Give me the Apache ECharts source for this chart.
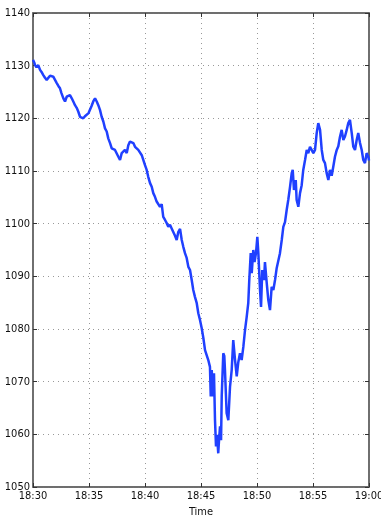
<!DOCTYPE html>
<html style="height:100%;width:100%;">
<head>
  <meta charset="utf-8">
  <title>Price</title>
  <script src="https://cdn.jsdelivr.net/npm/echarts@6/dist/echarts.min.js"></script>
</head>
<body style="margin:0px;height:100%;width:100%;background:#fff;">
  <div id="main" style="width:381px;height:523px"></div>
  <script type="text/javascript">
    // minutes after 18:30
    var minutes = [0, 0.13, 0.18, 0.31, 0.38, 0.47, 0.63, 0.76, 0.92, 1.07, 1.22, 1.37, 1.52, 1.65, 1.81, 1.96,
      2.12, 2.28, 2.41, 2.54, 2.71, 2.86, 3.01, 3.17, 3.30, 3.46, 3.62, 3.75, 3.90, 4.04, 4.20, 4.33, 4.49, 4.64,
      4.79, 4.96, 5.09, 5.22, 5.38, 5.54, 5.69, 5.83, 5.98, 6.13, 6.28, 6.43, 6.58, 6.72, 6.88, 7.03, 7.17, 7.32,
      7.47, 7.62, 7.77, 7.92, 8.06, 8.21, 8.37, 8.51, 8.66, 8.81, 8.96, 9.11, 9.26, 9.40, 9.55, 9.71, 9.85, 10.00,
      10.15, 10.29, 10.45, 10.60, 10.74, 10.89, 11.04, 11.19, 11.34, 11.49, 11.63, 11.79, 11.94, 12.08, 12.23,
      12.38, 12.53, 12.68, 12.83, 12.97, 13.13, 13.28, 13.42, 13.57, 13.72, 13.87, 14.02, 14.17, 14.31, 14.46,
      14.62, 14.76, 14.91, 15.06, 15.21, 15.36, 15.51, 15.65, 15.80, 15.87, 15.96, 16.04, 16.16, 16.25, 16.34,
      16.43, 16.54, 16.61, 16.70, 16.79, 16.85, 16.99, 17.08, 17.14, 17.29, 17.44, 17.59, 17.74, 17.88, 18.04,
      18.19, 18.33, 18.48, 18.63, 18.78, 18.93, 19.08, 19.22, 19.31, 19.44, 19.53, 19.67, 19.78, 19.91, 20.03,
      20.12, 20.27, 20.36, 20.47, 20.63, 20.71, 20.87, 21.01, 21.16, 21.31, 21.46, 21.61, 21.76, 21.90, 22.05,
      22.21, 22.35, 22.50, 22.65, 22.79, 22.95, 23.10, 23.19, 23.30, 23.46, 23.54, 23.69, 23.84, 23.99, 24.13,
      24.29, 24.44, 24.58, 24.73, 24.88, 25.03, 25.18, 25.33, 25.47, 25.63, 25.78, 25.92, 26.07, 26.22, 26.37,
      26.52, 26.67, 26.81, 26.96, 27.12, 27.26, 27.41, 27.56, 27.71, 27.86, 28.01, 28.15, 28.30, 28.46, 28.60,
      28.75, 28.90, 29.04, 29.20, 29.35, 29.49, 29.64, 29.79, 29.94, 30];
    var prices = [1131.1, 1130.5, 1130.1, 1129.7, 1129.8, 1130.1, 1129.2, 1128.8, 1128.2, 1127.7, 1127.3, 1127.6,
      1128.1, 1127.8, 1127.9, 1127.6, 1126.7, 1126.1, 1125.7, 1124.8, 1123.8, 1123.2, 1124.1, 1124.1, 1124.4,
      1123.8, 1123.1, 1122.5, 1122.0, 1121.3, 1120.3, 1120.4, 1120.0, 1120.4, 1120.6, 1121.0, 1121.3, 1122.3,
      1123.2, 1123.8, 1123.2, 1122.5, 1121.6, 1120.3, 1119.4, 1118.1, 1117.5, 1116.2, 1115.3, 1114.3, 1114.6,
      1114.0, 1113.7, 1112.7, 1112.1, 1113.4, 1113.7, 1114.0, 1113.4, 1114.9, 1115.6, 1115.9, 1115.3, 1114.6,
      1114.3, 1114.0, 1113.7, 1113.0, 1112.7, 1111.1, 1110.2, 1108.9, 1107.7, 1107.0, 1105.8, 1105.1, 1104.2,
      1103.9, 1103.2, 1103.7, 1101.3, 1100.7, 1100.1, 1099.4, 1099.8, 1099.1, 1098.8, 1097.7, 1096.9, 1098.4,
      1099.0, 1096.9, 1095.6, 1094.4, 1093.5, 1091.8, 1091.2, 1089.3, 1087.4, 1086.1, 1084.9, 1083.0, 1081.7,
      1080.2, 1078.3, 1076.0, 1076.0, 1074.1, 1072.8, 1067.2, 1072.2, 1067.2, 1071.6, 1062.7, 1057.7, 1059.9,
      1056.4, 1058.9, 1061.5, 1058.9, 1067.2, 1075.4, 1074.9, 1072.2, 1064.0, 1062.7, 1069.0, 1072.2, 1077.9,
      1074.1, 1071.0, 1073.7, 1075.4, 1074.1, 1076.6, 1079.8, 1082.3, 1084.9, 1089.3, 1094.4, 1090.6, 1095.0,
      1092.7, 1094.4, 1097.5, 1094.4, 1087.4, 1084.2, 1091.2, 1089.3, 1092.7, 1088.7, 1085.5, 1083.6, 1088.0,
      1087.4, 1089.3, 1091.6, 1091.8, 1094.4, 1096.9, 1099.4, 1100.3, 1102.6, 1104.5, 1107.0, 1109.6, 1110.2,
      1106.4, 1108.3, 1104.5, 1103.2, 1105.8, 1107.3, 1110.2, 1112.1, 1114.0, 1113.4, 1114.6, 1114.0, 1113.4,
      1114.0, 1117.2, 1119.1, 1117.8, 1114.0, 1112.1, 1111.5, 1109.6, 1108.3, 1110.2, 1109.1, 1110.8, 1112.7,
      1114.0, 1114.7, 1116.5, 1117.8, 1115.9, 1116.6, 1117.8, 1119.1, 1119.7, 1117.2, 1114.6, 1114.0, 1115.9,
      1117.2, 1115.3, 1114.0, 1112.1, 1111.5, 1113.4, 1112.7, 1112.0];
    var timeLabels = ['18:30', '18:35', '18:40', '18:45', '18:50', '18:55', '19:00'];

    var points = minutes.map(function (m, i) { return [m, prices[i]]; });

    var font = "'Liberation Sans Narrow', 'DejaVu Sans Condensed', 'Liberation Sans', sans-serif";
    var axisCol = '#666';

    var myChart = echarts.init(document.getElementById('main'));
    var option = {
      animation: false,
      grid: {
        left: 33, right: 12, top: 13, bottom: 36, outerBoundsMode: 'none', containLabel: false,
        show: true, borderColor: axisCol, borderWidth: 1.5, backgroundColor: 'transparent'
      },
      xAxis: [{
        type: 'value', min: 0, max: 30, interval: 5,
        name: 'Time', nameLocation: 'middle', nameGap: 20,
        nameTextStyle: { fontFamily: font, fontSize: 11, color: '#111' },
        axisLine: { onZero: false, lineStyle: { color: axisCol, width: 1.5 } },
        axisTick: { inside: true, length: 4, lineStyle: { color: '#333' } },
        axisLabel: {
          fontFamily: font, fontSize: 11, color: '#111', margin: 4,
          formatter: function (v) { return timeLabels[Math.round(v / 5)]; }
        },
        splitLine: { show: true, lineStyle: { type: [1, 4], color: '#999', width: 1 } }
      }, {
        type: 'value', min: 0, max: 30, interval: 5, position: 'top',
        axisLine: { show: true, onZero: false, lineStyle: { color: axisCol, width: 1.5 } },
        axisTick: { show: true, inside: true, length: 4, lineStyle: { color: '#333' } },
        axisLabel: { show: false }, splitLine: { show: false }
      }],
      yAxis: [{
        type: 'value', min: 1050, max: 1140, interval: 10,
        name: 'Price', nameLocation: 'middle', nameGap: 27, nameRotate: 90,
        nameTextStyle: { fontFamily: font, fontSize: 11, color: '#111' },
        axisLine: { show: true, onZero: false, lineStyle: { color: axisCol, width: 1.5 } },
        axisTick: { show: true, inside: true, length: 4, lineStyle: { color: '#333' } },
        axisLabel: {
          fontFamily: font, fontSize: 11, color: '#111', margin: 3,
          formatter: function (v) { return String(v); }
        },
        splitLine: { show: true, lineStyle: { type: [1, 4], color: '#999', width: 1 } }
      }, {
        type: 'value', min: 1050, max: 1140, interval: 10, position: 'right',
        axisLine: { show: true, onZero: false, lineStyle: { color: axisCol, width: 1.5 } },
        axisTick: { show: true, inside: true, length: 4, lineStyle: { color: '#333' } },
        axisLabel: { show: false }, splitLine: { show: false }
      }],
      series: [{
        type: 'line',
        data: points,
        showSymbol: false,
        lineStyle: { color: '#2040ff', width: 2.5 },
        z: 3
      }]
    };
    myChart.setOption(option);
  </script>
</body>
</html>
